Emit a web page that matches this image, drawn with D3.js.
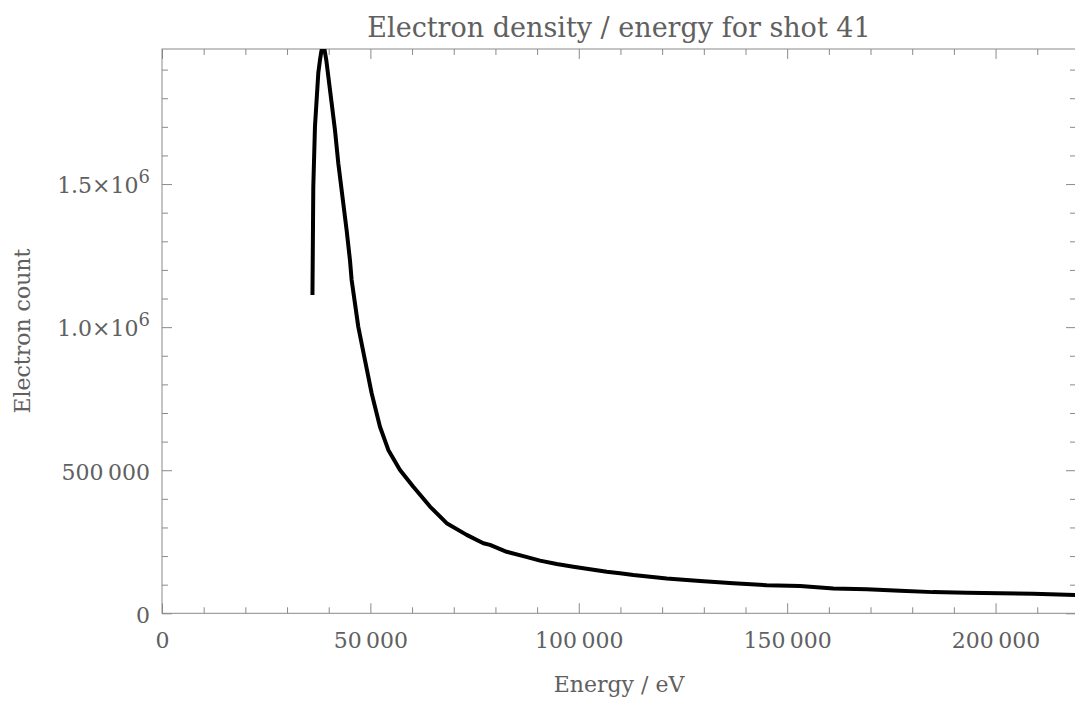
<!DOCTYPE html>
<html>
<head>
<meta charset="utf-8">
<script src="https://cdn.jsdelivr.net/npm/d3@7"></script>
<style>
  html, body { margin: 0; padding: 0; background: #fff; }
  svg { display: block; }
  text { font-family: "DejaVu Serif", serif; fill: #606060; }
</style>
</head>
<body>
<svg id="chart" width="1075" height="706"></svg>
<script>
// Measured spectrum for shot 41: energy (eV) and electron count per bin
const energy = [
  36100, 36300, 36700, 37500, 37900, 38200, 38700, 39400, 40700, 41500,
  42300, 44300, 45100, 45500, 47100, 48700, 50300, 52300, 54300, 57100,
  60300, 64300, 68300, 73100, 77100, 78700, 82700, 86700, 90700, 94700,
  98700, 102700, 106700, 109900, 113100, 121100, 129100, 137100, 145100, 153100,
  161100, 169100, 177100, 185000, 193100, 201100, 209000, 219500
];
const count = [
  1112000, 1490000, 1700000, 1888000, 1933000, 1961000, 1995000, 1935000, 1783000, 1689000,
  1573000, 1339000, 1234000, 1165000, 1001000, 885000, 769000, 652000, 571000, 501000,
  442000, 373000, 315000, 274000, 245000, 239000, 215000, 200000, 184000, 172000,
  163000, 154000, 145000, 140000, 134000, 122000, 113000, 105000, 98000, 95000,
  87000, 84000, 79000, 74000, 72000, 70000, 68500, 63800
];

// Axis ranges and ticks
const xDomain = [0, 219300];
const yDomain = [0, 1972000];
const xTicks = [0, 50000, 100000, 150000, 200000];
const xTickLabels = ["0", "50\u2009000", "100\u2009000", "150\u2009000", "200\u2009000"];
const xMinorTicks = d3.range(10000, 220000, 10000).filter(v => v % 50000 !== 0);
const yTicks = [0, 500000, 1000000, 1500000];
const yTickLabels = ["0", "500\u2009000", "1.0\u00d710^6", "1.5\u00d710^6"];
const yMinorTicks = d3.range(100000, 1972000, 100000).filter(v => v % 500000 !== 0);

const titleText = "Electron density / energy for shot 41";
const xLabelText = "Energy / eV";
const yLabelText = "Electron count";

const svg = d3.select("#chart");
const plotLeft = 162, plotRight = 1076, plotTop = 49, plotBottom = 613.3;

const x = d3.scaleLinear().domain(xDomain).range([plotLeft, plotRight]);
const y = d3.scaleLinear().domain(yDomain).range([plotBottom, plotTop]);

const frameColor = "#8a8a8a";
const labelColor = "#606060";
const majorLen = 10, minorLen = 6;

function styleAxis(g) {
  g.select(".domain").remove();
  g.selectAll(".tick line").attr("stroke", frameColor).attr("stroke-width", 1);
  g.selectAll(".tick text").attr("fill", labelColor).style("font-family", "DejaVu Serif").style("font-size", "22px");
}

// Bottom axis: major with labels, minor without
const gx = svg.append("g").attr("transform", `translate(0,${plotBottom})`)
  .call(d3.axisBottom(x).tickValues(xTicks)
    .tickFormat((d, i) => xTickLabels[i])
    .tickSizeInner(-majorLen).tickSizeOuter(0).tickPadding(14));
styleAxis(gx);
gx.selectAll(".tick text").attr("dy", "0.71em").attr("y", 19);
svg.append("g").attr("transform", `translate(0,${plotBottom})`)
  .call(d3.axisBottom(x).tickValues(xMinorTicks).tickFormat("")
    .tickSizeInner(-minorLen).tickSizeOuter(0)).call(styleAxis);

// Top axis ticks
svg.append("g").attr("transform", `translate(0,${plotTop})`)
  .call(d3.axisTop(x).tickValues(xTicks).tickFormat("")
    .tickSizeInner(-majorLen).tickSizeOuter(0)).call(styleAxis);
svg.append("g").attr("transform", `translate(0,${plotTop})`)
  .call(d3.axisTop(x).tickValues(xMinorTicks).tickFormat("")
    .tickSizeInner(-minorLen).tickSizeOuter(0)).call(styleAxis);

// Left axis
const gy = svg.append("g").attr("transform", `translate(${plotLeft},0)`)
  .call(d3.axisLeft(y).tickValues(yTicks).tickFormat("")
    .tickSizeInner(-majorLen).tickSizeOuter(0));
styleAxis(gy);
gy.selectAll(".tick").each(function (d, i) {
  const parts = yTickLabels[i].split("^");
  const t = d3.select(this).append("text")
    .attr("x", -12).attr("dy", "0.4em")
    .attr("text-anchor", "end")
    .style("font-size", "22px");
  t.append("tspan").text(parts[0]);
  if (parts.length > 1) {
    t.append("tspan").attr("dy", "-0.6em").style("font-size", "18px").text(parts[1]);
  }
});
svg.append("g").attr("transform", `translate(${plotLeft},0)`)
  .call(d3.axisLeft(y).tickValues(yMinorTicks).tickFormat("")
    .tickSizeInner(-minorLen).tickSizeOuter(0)).call(styleAxis);

// Right axis ticks
svg.append("g").attr("transform", `translate(${plotRight},0)`)
  .call(d3.axisRight(y).tickValues(yTicks).tickFormat("")
    .tickSizeInner(-majorLen).tickSizeOuter(0)).call(styleAxis);
svg.append("g").attr("transform", `translate(${plotRight},0)`)
  .call(d3.axisRight(y).tickValues(yMinorTicks).tickFormat("")
    .tickSizeInner(-minorLen).tickSizeOuter(0)).call(styleAxis);

// Frame
svg.append("rect")
  .attr("x", plotLeft).attr("y", plotTop)
  .attr("width", plotRight - plotLeft).attr("height", plotBottom - plotTop)
  .attr("fill", "none").attr("stroke", frameColor).attr("stroke-width", 1);

// Clip the curve to the frame
svg.append("clipPath").attr("id", "plot-clip")
  .append("rect").attr("x", plotLeft).attr("y", plotTop)
  .attr("width", plotRight - plotLeft).attr("height", plotBottom - plotTop);

const line = d3.line()
  .x((d, i) => x(energy[i]))
  .y((d, i) => y(count[i]));

svg.append("path")
  .datum(energy)
  .attr("clip-path", "url(#plot-clip)")
  .attr("fill", "none")
  .attr("stroke", "#000")
  .attr("stroke-width", 4)
  .attr("stroke-linejoin", "round")
  .attr("d", line);

// Titles
svg.append("text")
  .attr("x", (plotLeft + plotRight) / 2).attr("y", 37)
  .attr("text-anchor", "middle")
  .style("font-size", "27px")
  .text(titleText);

svg.append("text")
  .attr("x", (plotLeft + plotRight) / 2).attr("y", 692)
  .attr("text-anchor", "middle")
  .style("font-size", "22px")
  .text(xLabelText);

svg.append("text")
  .attr("transform", `translate(30,${(plotTop + plotBottom) / 2}) rotate(-90)`)
  .attr("text-anchor", "middle")
  .style("font-size", "22px")
  .text(yLabelText);
</script>
</body>
</html>
